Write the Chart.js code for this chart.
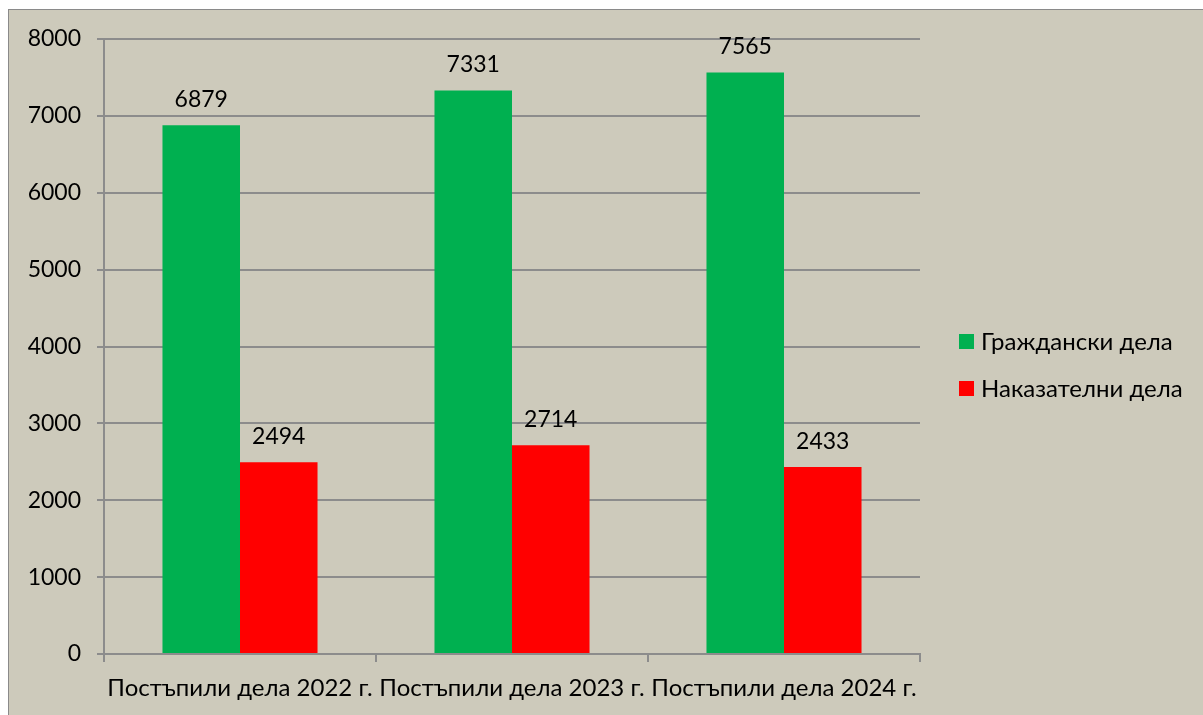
<!DOCTYPE html>
<html>
<head>
<meta charset="utf-8">
<script src="https://cdn.jsdelivr.net/npm/chart.js@4"></script>
<style>
  html, body { margin: 0; padding: 0; background: #ffffff; width: 1203px; height: 715px; overflow: hidden; }
  #box { position: absolute; left: 8px; top: 9px; width: 1210px; height: 720px; background: #cdcabb; border: 1px solid #8a8a8a; box-sizing: border-box; }
  #wrap { position: absolute; left: 0; top: 0; width: 1203px; height: 715px; }
</style>
</head>
<body>
<div id="box"></div>
<div id="wrap"><canvas id="c" width="1203" height="715"></canvas></div>
<script>
const categories = ['Постъпили дела 2022 г.', 'Постъпили дела 2023 г.', 'Постъпили дела 2024 г.'];
const civilLabel = 'Граждански дела';
const criminalLabel = 'Наказателни дела';
const civilCases = [6879, 7331, 7565];
const criminalCases = [2494, 2714, 2433];
const yTicks = [0, 1000, 2000, 3000, 4000, 5000, 6000, 7000, 8000];

const FONT = 'Lato, "Open Sans", sans-serif';

const valueLabels = {
  id: 'valueLabels',
  afterDatasetsDraw(chart) {
    const ctx = chart.ctx;
    ctx.save();
    ctx.font = '23px ' + FONT;
    ctx.fillStyle = '#000';
    ctx.textAlign = 'center';
    ctx.textBaseline = 'alphabetic';
    chart.data.datasets.forEach((ds, i) => {
      const meta = chart.getDatasetMeta(i);
      meta.data.forEach((bar, j) => {
        ctx.fillText(String(ds.data[j]), bar.x, bar.y - 18);
      });
    });
    ctx.restore();
  }
};

const sideLegend = {
  id: 'sideLegend',
  afterDraw(chart) {
    const ctx = chart.ctx;
    ctx.save();
    ctx.font = '24px ' + FONT;
    ctx.textAlign = 'left';
    ctx.textBaseline = 'middle';
    const x0 = chart.chartArea.right + 39;
    const yc = [341, 388];
    chart.data.datasets.forEach((ds, i) => {
      ctx.fillStyle = ds.backgroundColor;
      ctx.fillRect(x0, yc[i] - 7, 15, 15);
      ctx.fillStyle = '#000';
      ctx.fillText(ds.label, x0 + 22, yc[i] + 1);
    });
    ctx.restore();
  }
};

new Chart(document.getElementById('c'), {
  type: 'bar',
  data: {
    labels: categories,
    datasets: [
      { label: civilLabel, data: civilCases, backgroundColor: '#00b050', categoryPercentage: 0.57, barPercentage: 1.0 },
      { label: criminalLabel, data: criminalCases, backgroundColor: '#ff0000', categoryPercentage: 0.57, barPercentage: 1.0 }
    ]
  },
  options: {
    responsive: false,
    animation: false,
    devicePixelRatio: 1,
    layout: { padding: { left: 8, top: 39, right: 283, bottom: 0 } },
    plugins: { legend: { display: false }, tooltip: { enabled: false } },
    scales: {
      x: {
        grid: { display: true, drawOnChartArea: false, drawTicks: true, tickLength: 8, offset: true, color: '#8c8c8c', lineWidth: 2 },
        border: { display: true, color: '#8c8c8c', width: 2 },
        ticks: { color: '#000', font: { size: 24, family: FONT }, padding: 12, maxRotation: 0, autoSkip: false },
        afterFit(s) { s.height = 61; }
      },
      y: {
        min: 0, max: 8000,
        afterBuildTicks(s) { s.ticks = yTicks.map(v => ({ value: v })); },
        grid: { color: '#8c8c8c', lineWidth: 2, tickLength: 7 },
        border: { display: true, color: '#8c8c8c', width: 2 },
        ticks: { color: '#000', font: { size: 23, family: FONT }, padding: 16, callback: (v) => String(v) },
        afterFit(s) { s.width = 96; }
      }
    }
  },
  plugins: [valueLabels, sideLegend]
});
</script>
</body>
</html>
